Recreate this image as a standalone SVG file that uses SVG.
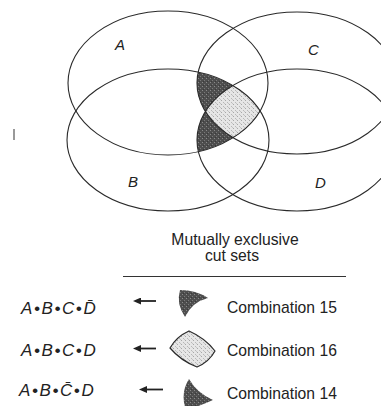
<svg xmlns="http://www.w3.org/2000/svg" width="381" height="406" viewBox="0 0 381 406">
<style>
.ell{fill:none;stroke:#2a2a2a;stroke-width:1.1}
.lbl{font-family:"Liberation Sans",Arial,sans-serif;font-style:italic;font-size:15px;fill:#222}
.txt{font-family:"Liberation Sans",Arial,sans-serif;font-size:15.7px;fill:#222}
.expr{font-family:"Liberation Sans",Arial,sans-serif;font-style:italic;font-size:17px;fill:#222;letter-spacing:1.6px}
.arr{stroke:#222;stroke-width:1.8;fill:none}
.dark{fill:url(#pDark)}
.light{fill:url(#pLight)}
</style>
<defs>
<pattern id="pDark" width="4" height="4" patternUnits="userSpaceOnUse">
<rect width="4" height="4" fill="#4e4e4e"/>
<rect x="0" y="0" width="1" height="1" fill="#7a7a7a"/>
<rect x="2" y="2" width="1" height="1" fill="#8a8a8a"/>
<rect x="3" y="1" width="1" height="1" fill="#3a3a3a"/>
</pattern>
<pattern id="pLight" width="4" height="4" patternUnits="userSpaceOnUse">
<rect width="4" height="4" fill="#e6e6e6"/>
<rect x="1" y="0" width="1" height="1" fill="#a8a8a8"/>
<rect x="3" y="2" width="1" height="1" fill="#b8b8b8"/>
<rect x="0" y="3" width="1" height="1" fill="#c4c4c4"/>
</pattern>
<clipPath id="cA"><ellipse cx="168" cy="83" rx="100" ry="72"/></clipPath>
<clipPath id="cB"><ellipse cx="168" cy="140" rx="101" ry="71"/></clipPath>
<clipPath id="cC"><ellipse cx="297" cy="83" rx="100" ry="71"/></clipPath>
<marker id="ah" markerWidth="8" markerHeight="7" refX="0" refY="3.5" orient="auto" markerUnits="userSpaceOnUse">
<path d="M0,0 L8,3.5 L0,7 Z" fill="#222"/>
</marker>
</defs>

<g id="shading">
<g clip-path="url(#cA)">
<g clip-path="url(#cB)">
<ellipse class="dark" cx="297" cy="83" rx="100" ry="71"/>
<ellipse class="dark" cx="297" cy="140" rx="100" ry="71"/>
<g clip-path="url(#cC)">
<ellipse class="light" cx="297" cy="140" rx="100" ry="71"/>
</g>
</g>
</g>
</g>

<g id="setA"><ellipse class="ell" cx="168" cy="83" rx="100" ry="72"/><text class="lbl" x="115" y="50">A</text></g>
<g id="setB"><ellipse class="ell" cx="168" cy="140" rx="101" ry="71"/><text class="lbl" x="128" y="187">B</text></g>
<g id="setC"><ellipse class="ell" cx="297" cy="83" rx="100" ry="71"/><text class="lbl" x="308" y="55">C</text></g>
<g id="setD"><ellipse class="ell" cx="297" cy="140" rx="100" ry="71"/><text class="lbl" x="315" y="188">D</text></g>

<line x1="14" y1="129" x2="14" y2="140" stroke="#777" stroke-width="1.5"/>

<g id="header">
<text class="txt" x="235" y="245" text-anchor="middle">Mutually exclusive</text>
<text class="txt" x="232" y="261" text-anchor="middle">cut sets</text>
<line x1="123" y1="276.5" x2="346" y2="276.5" stroke="#333" stroke-width="1.2"/>
</g>

<g id="row15">
<text class="expr" x="21" y="314">A•B•C•D&#x304;</text>
<path class="dark" d="M180,290 Q196,290 208,298 Q192,302 185,317 Q176,304 180,290 Z"/>
<text class="txt" x="227" y="313">Combination 15</text>
</g>
<g id="row16">
<text class="expr" x="21" y="356">A•B•C•D</text>
<path class="light" stroke="#2a2a2a" stroke-width="1.2" d="M170,348 Q176.5,336.5 189,331 Q205,338 215,351 Q209,362 197,367 Q180.5,360.5 170,348 Z"/>
<text class="txt" x="227" y="356">Combination 16</text>
</g>
<g id="row14">
<text class="expr" x="19" y="396">A•B•C&#x304;•D</text>
<path class="dark" d="M189,379 Q197,393 213,400 Q200,406 186,410 Q180,393 189,379 Z"/>
<text class="txt" x="227" y="399">Combination 14</text>
</g>

<g id="connectors">
<line class="arr" x1="156" y1="301" x2="141" y2="301" marker-end="url(#ah)"/>
<line class="arr" x1="156" y1="348.5" x2="141" y2="348.5" marker-end="url(#ah)"/>
<line class="arr" x1="163" y1="389.5" x2="147" y2="389.5" marker-end="url(#ah)"/>
</g>
</svg>
